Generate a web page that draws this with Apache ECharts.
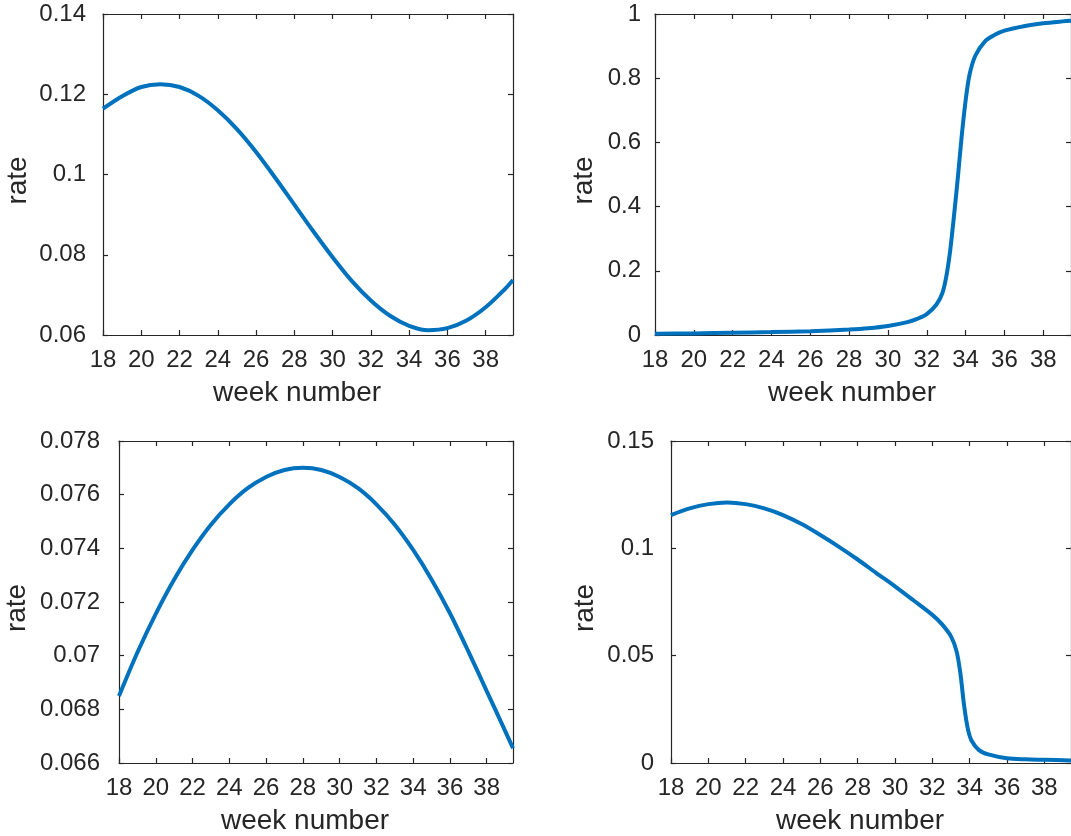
<!DOCTYPE html>
<html>
<head>
<meta charset="utf-8">
<script src="https://cdn.jsdelivr.net/npm/echarts@6/dist/echarts.min.js"></script>
<style>
html,body{margin:0;padding:0;background:#fff;}
#chart{width:1071px;height:836px;}
</style>
</head>
<body>
<div id="chart"></div>
<script>
// ---- data ----
const weeksTL = [18,19,20,21,22,23,24,25,26,27,28,29,30,31,32,33,34,35,36,37,38,39,39.43];
const rateTL  = [0.1164,0.1195,0.1218,0.1225,0.1218,0.1196,0.1160,0.1113,0.1056,0.0992,0.0925,0.0858,0.0794,0.0735,0.0686,0.0648,0.0623,0.0612,0.0617,0.0636,0.0669,0.0714,0.0737];

const weeksTR = [18,20,22,24,26,28,29,30,31,31.5,32,32.5,32.8,33,33.2,33.4,33.6,33.8,34,34.2,34.5,35,35.5,36,37,38,39,39.43];
const rateTR  = [0.004,0.005,0.007,0.009,0.012,0.017,0.021,0.028,0.040,0.050,0.065,0.095,0.13,0.18,0.26,0.37,0.49,0.62,0.73,0.81,0.87,0.915,0.935,0.948,0.962,0.971,0.977,0.979];

const weeksBL = [18,19,20,21,22,23,24,25,26,27,28,29,30,31,32,33,34,35,36,37,38,39,39.43];
const rateBL  = [0.06850,0.07012,0.07156,0.07284,0.07394,0.07488,0.07564,0.07624,0.07666,0.07692,0.07700,0.07692,0.07666,0.07624,0.07564,0.07488,0.07394,0.07284,0.07158,0.07016,0.06868,0.06720,0.06655];

const weeksBR = [18,19,20,21,22,23,24,25,26,27,28,29,30,31,32,32.5,33,33.3,33.5,33.7,33.9,34.1,34.5,35,36,37,38,39.43];
const rateBR  = [0.1155,0.1186,0.1206,0.1214,0.1206,0.1186,0.1155,0.1113,0.1062,0.1007,0.0948,0.0885,0.0823,0.0757,0.0690,0.0648,0.0590,0.0520,0.0420,0.0270,0.0160,0.0105,0.0060,0.0040,0.0022,0.0017,0.0015,0.0012];

const xTicks = {min: 18, max: 39.43, interval: 2};
const yTL = {min: 0.06, max: 0.14, interval: 0.02};
const yTR = {min: 0, max: 1, interval: 0.2};
const yBL = {min: 0.066, max: 0.078, interval: 0.002};
const yBR = {min: 0, max: 0.15, interval: 0.05};

// ---- styling / layout ----
const AX = '#262626';
const FONT = '"Liberation Sans", Arial, Helvetica, sans-serif';
const LINE = '#0072BD';

const panels = [
  {w: weeksTL, r: rateTL, y: yTL, grid: {left: 103, top: 14, width: 410, height: 321}, yMargin: 17, yGap: 71},
  {w: weeksTR, r: rateTR, y: yTR, grid: {left: 655, top: 14, width: 427, height: 321}, yMargin: 14, yGap: 57},
  {w: weeksBL, r: rateBL, y: yBL, grid: {left: 119, top: 441, width: 394, height: 322}, yMargin: 19, yGap: 88},
  {w: weeksBR, r: rateBR, y: yBR, grid: {left: 671, top: 441, width: 411, height: 322}, yMargin: 17, yGap: 72}
];

function fmt(v){ return String(parseFloat(v.toFixed(6))); }

const grid = [], xAxis = [], yAxis = [], series = [];
panels.forEach((p, i) => {
  grid.push(Object.assign({containLabel: false}, p.grid));
  const axLine = {show: true, onZero: false, lineStyle: {color: AX, width: 1.2}};
  const tick = {show: true, inside: true, length: 5, lineStyle: {color: AX, width: 1.2}};
  xAxis.push({
    type: 'value', gridIndex: i, position: 'bottom',
    min: xTicks.min, max: xTicks.max, interval: xTicks.interval,
    axisLine: axLine, axisTick: tick, splitLine: {show: false},
    axisLabel: {show: true, color: AX, fontSize: 24, fontFamily: FONT, margin: 13, showMaxLabel: false, formatter: fmt},
    name: 'week number', nameLocation: 'middle', nameGap: 44,
    nameTextStyle: {color: AX, fontSize: 28, fontFamily: FONT, padding: [0, 22, 0, 0]}
  });
  xAxis.push({
    type: 'value', gridIndex: i, position: 'top',
    min: xTicks.min, max: xTicks.max, interval: xTicks.interval,
    axisLine: axLine, axisTick: tick, splitLine: {show: false},
    axisLabel: {show: false}
  });
  yAxis.push({
    type: 'value', gridIndex: i, position: 'left',
    min: p.y.min, max: p.y.max, interval: p.y.interval,
    axisLine: axLine, axisTick: tick, splitLine: {show: false},
    axisLabel: {show: true, color: AX, fontSize: 24, fontFamily: FONT, margin: p.yMargin, formatter: fmt},
    name: 'rate', nameLocation: 'middle', nameGap: p.yGap, nameRotate: 90,
    nameTextStyle: {color: AX, fontSize: 28, fontFamily: FONT, padding: [0, 12, 0, 0]}
  });
  yAxis.push({
    type: 'value', gridIndex: i, position: 'right',
    min: p.y.min, max: p.y.max, interval: p.y.interval,
    axisLine: axLine, axisTick: tick, splitLine: {show: false},
    axisLabel: {show: false}
  });
  series.push({
    type: 'line', xAxisIndex: 2 * i, yAxisIndex: 2 * i,
    data: p.w.map((w, k) => [w, p.r[k]]),
    smooth: 0.3, showSymbol: false, symbol: 'none',
    lineStyle: {color: LINE, width: 4}, animation: false
  });
});

const chart = echarts.init(document.getElementById('chart'), null, {renderer: 'canvas'});
chart.setOption({
  backgroundColor: '#ffffff',
  animation: false,
  grid, xAxis, yAxis, series
});
</script>
</body>
</html>
